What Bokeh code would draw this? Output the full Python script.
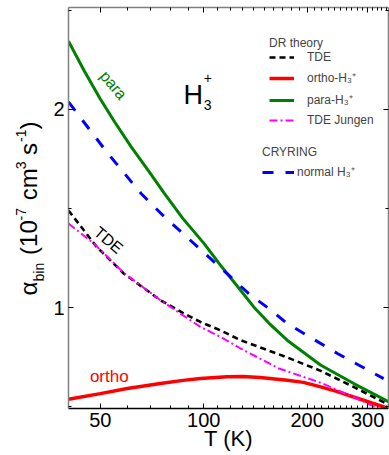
from bokeh.plotting import figure
from bokeh.models import (Range1d, LinearAxis, LogAxis, FixedTicker, BasicTickFormatter,
                          CustomJSTickFormatter, Label, Legend, LegendItem, Title)
from bokeh.embed import file_html
from bokeh.resources import INLINE

# ---------------- data ----------------
T_tde = [40.4, 48.8, 58.5, 74.8, 87.5, 97.8, 111.8, 128, 175, 219, 273, 345]
alpha_tde = [1.49, 1.306, 1.172, 1.037, 0.970, 0.927, 0.885, 0.835, 0.748, 0.68, 0.599, 0.51]

T_ortho = [40.4, 50, 59.9, 74.8, 87, 97.8, 117, 130, 146, 175, 195, 219, 245, 273, 345]
alpha_ortho = [0.537, 0.565, 0.591, 0.616, 0.632, 0.641, 0.650, 0.651, 0.647, 0.633, 0.622,
               0.599, 0.575, 0.548, 0.49]

T_para = [40.4, 45, 50, 55, 61.5, 69, 76.8, 86.9, 100, 111.8, 128, 139.8, 155, 174.9, 218.7,
          273.3, 345]
alpha_para = [2.345, 2.192, 2.053, 1.938, 1.811, 1.691, 1.576, 1.45, 1.325, 1.214, 1.087,
              1.003, 0.92, 0.835, 0.71, 0.616, 0.525]

T_jungen = [40.4, 47.9, 58.5, 74.8, 97.8, 111.8, 128, 165.5, 219, 273, 345]
alpha_jungen = [1.424, 1.323, 1.175, 1.037, 0.902, 0.852, 0.793, 0.692, 0.62, 0.548, 0.465]

T_cryring = [40.4, 52.6, 65.7, 76, 120, 135, 156, 175, 245, 334]
alpha_cryring = [2.038, 1.778, 1.576, 1.466, 1.153, 1.071, 0.99, 0.919, 0.768, 0.641]

x_major = [50, 100, 200, 300]
x_minor = [40, 60, 70, 80, 90] + list(range(110, 200, 10)) + list(range(210, 300, 10)) + [310, 320, 330, 340]
y_major = [1, 2]
y_minor = [0.5, 1.5, 2.5]

FONT = "Liberation Sans"
NB = "\u00a0"

p = figure(width=389, height=455, x_axis_type="log", output_backend="svg",
           toolbar_location=None, title=None,
           x_range=Range1d(40.4, 345), y_range=Range1d(0.49, 2.515),
           min_border_left=68, min_border_right=1, min_border_top=7, min_border_bottom=47)
p.xgrid.visible = False
p.ygrid.visible = False
p.outline_line_color = None
p.background_fill_color = "white"
p.border_fill_color = "white"


def style_axis(ax, line_color, show_labels=True):
    ax.axis_line_color = line_color
    ax.axis_line_width = 1.5
    ax.major_tick_in = 5
    ax.major_tick_out = 0
    ax.minor_tick_in = 3
    ax.minor_tick_out = 0
    ax.major_tick_line_color = "black"
    ax.minor_tick_line_color = "black"
    ax.major_label_text_font = FONT
    ax.major_label_text_font_size = "20px"
    ax.major_label_text_color = "black"
    if not show_labels:
        ax.formatter = CustomJSTickFormatter(code="return ''")
        ax.major_label_standoff = 0


xb = p.xaxis[0]
xb.ticker = FixedTicker(ticks=x_major, minor_ticks=x_minor)
xb.formatter = BasicTickFormatter()
style_axis(xb, "black")
xb.major_label_standoff = 4
xb.axis_label = "T (K)"
xb.axis_label_text_font = FONT
xb.axis_label_text_font_size = "22px"
xb.axis_label_text_font_style = "normal"
xb.axis_label_text_color = "black"
xb.axis_label_standoff = -4

yl = p.yaxis[0]
yl.ticker = FixedTicker(ticks=y_major, minor_ticks=y_minor)
style_axis(yl, "#7f7f7f")
yl.major_label_standoff = 4

xt = LogAxis(ticker=FixedTicker(ticks=x_major, minor_ticks=x_minor))
style_axis(xt, "#7f7f7f", show_labels=False)
p.add_layout(xt, "above")

yr = LinearAxis(ticker=FixedTicker(ticks=y_major, minor_ticks=y_minor))
style_axis(yr, "#7f7f7f", show_labels=False)
p.add_layout(yr, "right")

# ---------------- y-axis title: alpha_bin (10^-7 cm^3 s^-1), built from three rows ----------------
def ytitle(text, offset, size, valign, standoff):
    p.add_layout(Title(text=text, align="left", offset=offset, vertical_align=valign,
                       standoff=standoff, text_font=FONT, text_font_size=f"{size}px",
                       text_font_style="normal", text_color="black"), "left")

ytitle("bin", 127, 14, "top", 4)                                   # subscript row
ytitle("α" + NB * 4 + "(10" + NB * 3 + "cm" + NB * 2 + "s" + NB * 2 + ")",
       113, 24, "bottom", -26)                                     # main row
ytitle("-7" + NB * 10 + "3" + NB * 5 + "-1", 188, 14, "bottom", -6)  # superscript row

# ---------------- curves ----------------
r_tde = p.line(T_tde, alpha_tde, line_color="black", line_width=2.6, line_dash="6 4")
r_ortho = p.line(T_ortho, alpha_ortho, line_color="#ff0000", line_width=3.5)
r_para = p.line(T_para, alpha_para, line_color="#008000", line_width=3)
r_jungen = p.line(T_jungen, alpha_jungen, line_color="#ff00ff", line_width=2,
                  line_dash="8 3 2 3")
r_cry = p.line(T_cryring, alpha_cryring, line_color="#0000ff", line_width=3,
               line_dash="11 12")

# ---------------- legends ----------------
leg1 = Legend(items=[LegendItem(label="TDE", renderers=[r_tde]),
                     LegendItem(label="ortho-H₃⁺", renderers=[r_ortho]),
                     LegendItem(label="para-H₃⁺", renderers=[r_para]),
                     LegendItem(label="TDE Jungen", renderers=[r_jungen])],
              title="DR theory", location=(201, 281))
leg2 = Legend(items=[LegendItem(label="normal H₃⁺", renderers=[r_cry])],
              title="CRYRING", location=(194, 228))
for lg, gw, ls, st in ((leg1, 25, 13, 0), (leg2, 32, 3, 4)):
    lg.padding = 0
    lg.margin = 0
    lg.spacing = 5
    lg.glyph_height = 14
    lg.label_height = 14
    lg.glyph_width = gw
    lg.label_standoff = ls
    lg.title_standoff = st
    lg.background_fill_alpha = 0
    lg.border_line_alpha = 0
    lg.label_text_font = FONT
    lg.label_text_font_size = "12px"
    lg.title_text_font = FONT
    lg.title_text_font_size = "12px"
    lg.title_text_font_style = "normal"
    p.add_layout(lg, "center")

# ---------------- in-plot annotations ----------------
p.add_layout(Label(x=54.6, y=2.123, text="para", angle=-50, angle_units="deg",
                   text_align="center", text_baseline="middle", text_color="#008000",
                   text_font=FONT, text_font_size="16px"))
p.add_layout(Label(x=52.8, y=1.34, text="TDE", angle=-40, angle_units="deg",
                   text_align="center", text_baseline="middle", text_color="black",
                   text_font=FONT, text_font_size="16px"))
p.add_layout(Label(x=53.1, y=0.653, text="ortho", text_align="center",
                   text_baseline="middle", text_color="#ff0000",
                   text_font=FONT, text_font_size="17px"))
p.add_layout(Label(x=87.3, y=2.072, text="H", text_align="left", text_baseline="alphabetic",
                   text_font=FONT, text_font_size="27px", text_color="black"))
p.add_layout(Label(x=100, y=2.022, text="3", text_align="left", text_baseline="alphabetic",
                   text_font=FONT, text_font_size="14px", text_color="black"))
p.add_layout(Label(x=100, y=2.158, text="+", text_align="left", text_baseline="alphabetic",
                   text_font=FONT, text_font_size="14px", text_color="black"))

open("out.html", "w").write(file_html(p, INLINE))
